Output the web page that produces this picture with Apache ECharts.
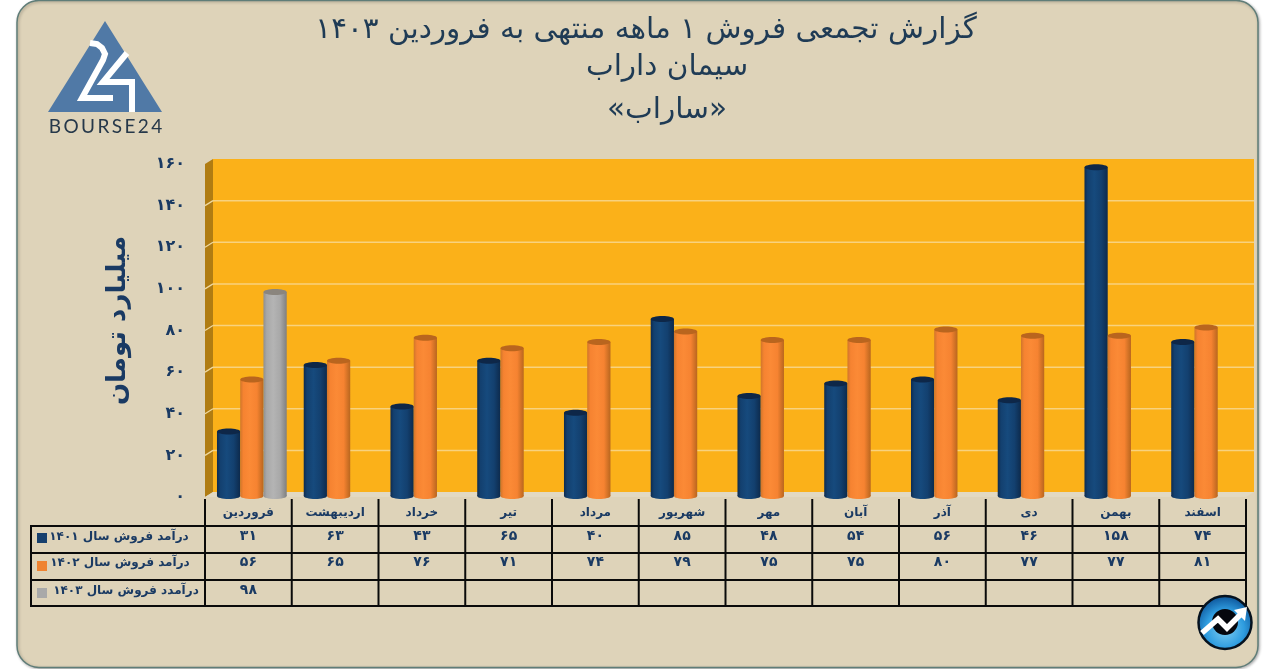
<!DOCTYPE html>
<html>
<head>
<meta charset="utf-8">
<style>html,body{margin:0;padding:0;background:#fff}#c{width:1271px;height:669px}</style>
<script src="https://cdn.jsdelivr.net/npm/echarts@6/dist/echarts.min.js"></script>
</head>
<body>
<div id="c"></div>
<script>
var months = ['فروردین','اردیبهشت','خرداد','تیر','مرداد','شهریور','مهر','آبان','آذر','دی','بهمن','اسفند'];
var sales1401 = [31,63,43,65,40,85,48,54,56,46,158,74];
var sales1402 = [56,65,76,71,74,79,75,75,80,77,77,81];
var sales1403 = [98];
var yTicks = [0,20,40,60,80,100,120,140,160];
var rowLabels = ['درآمد فروش سال ۱۴۰۱','درآمد فروش سال ۱۴۰۲','درآمدد فروش سال ۱۴۰۳'];
var titleLines = ['گزارش تجمعی فروش ۱ ماهه منتهی به فروردین ۱۴۰۳','سیمان داراب','\u200F«ساراب»\u200F'];
var yAxisName = 'میلیارد تومان';

var FONT = '"DejaVu Sans"';
var NAVY = '#1a3a63';
var X0 = 205, X1 = 1246, Y0 = 497, YTOP = 164, DX = 8, DY = 5;
var ROW_Y = [526,553,580,606], ROW_MID = [536,562,590];
var rowColors = ['#17406e','#ef8331','#a9a9a9'];

function fa(n){return String(n).replace(/\d/g,function(d){return '۰۱۲۳۴۵۶۷۸۹'[d];});}
function grad(c){return {type:'linear',x:0,y:0,x2:1,y2:0,colorStops:[
  {offset:0,color:c[0]},{offset:0.14,color:c[1]},{offset:0.42,color:c[2]},{offset:0.72,color:c[1]},{offset:1,color:c[3]}]};}

function cylinder(slot, colors){
  return function(params, api){
    var v = api.value(1);
    if (v == null || isNaN(v)) return;
    var top = api.coord([api.value(0), v]);
    var base = api.coord([api.value(0), 0]);
    var band = api.size([1,0])[0];
    var w = band*0.268;
    var x = top[0]-band/2 + band*0.138 + slot*w;
    var g = grad(colors);
    return {type:'group',children:[
      {type:'ellipse',shape:{cx:x+w/2,cy:base[1]-1,rx:w/2,ry:3},style:{fill:g}},
      {type:'rect',shape:{x:x,y:top[1]-1,width:w,height:base[1]-top[1]},style:{fill:g}},
      {type:'ellipse',shape:{cx:x+w/2,cy:top[1]-1,rx:w/2,ry:3},style:{fill:colors[4]}}
    ]};
  };
}
function wall(params, api){
  var cs = params.coordSys, kids = [];
  var l = cs.x, r = cs.x+cs.width, t = cs.y, b = cs.y+cs.height;
  kids.push({type:'rect',shape:{x:l+DX,y:t-DY,width:r-l,height:b-t},style:{fill:'#fbb119'}});
  kids.push({type:'polygon',shape:{points:[[l,t],[l+DX,t-DY],[l+DX,b-DY],[l,b]]},style:{fill:'#b07c12'}});
  kids.push({type:'polygon',shape:{points:[[l,b],[l+DX,b-DY],[r+8,b-DY],[r,b]]},style:{fill:'#e2d9c3'}});
  yTicks.forEach(function(v){
    if (v===0||v===160) return;
    var y = api.coord([0,v])[1];
    kids.push({type:'line',shape:{x1:l+DX,y1:y-DY,x2:r+8,y2:y-DY},style:{stroke:'#f8d27e',lineWidth:1.5}});
    kids.push({type:'line',shape:{x1:l,y1:y,x2:l+DX,y2:y-DY},style:{stroke:'#f0d9a0',lineWidth:1.2}});
  });
  return {type:'group',children:kids};
}
var rows = [sales1401,sales1402,sales1403];
var cells = [];
rows.forEach(function(arr,r){arr.forEach(function(v,i){cells.push([i,r,v]);});});
function cell(params, api){
  var x = api.coord([api.value(0),0])[0];
  return {type:'text',style:{text:fa(api.value(2)),x:x,y:ROW_MID[api.value(1)],align:'center',verticalAlign:'middle',
    font:'bold 14px '+FONT,fill:NAVY}};
}

var gfx = [];
gfx.push({type:'rect',z:-5,shape:{x:17,y:0.5,width:1241,height:667,r:22},
  style:{fill:'#ded3b9',stroke:'#5f7d78',lineWidth:1.5,shadowBlur:3,shadowColor:'rgba(0,0,0,0.3)',shadowOffsetX:1,shadowOffsetY:1}});
titleLines.forEach(function(t,i){
  gfx.push({type:'text',z:3,style:{text:t,x:[646,667,667][i],y:[30,67,110][i],align:'center',verticalAlign:'middle',
    font:'29.5px '+FONT,fill:'#1f3b55'}});
});
// logo
gfx.push({type:'polygon',z:3,shape:{points:[[105,21],[162,112],[48,112]]},style:{fill:'#5079a6'}});
gfx.push({type:'polyline',z:4,shape:{points:[[90,43],[97,44],[102,48],[105,54],[103,60],[82,98],[113,98]]},style:{stroke:'#fff',fill:'none',lineWidth:6}});
gfx.push({type:'polyline',z:4,shape:{points:[[127,53],[103,82],[132,82],[132,112]]},style:{stroke:'#fff',fill:'none',lineWidth:6}});
gfx.push({type:'text',z:4,style:{text:'B\u2009O\u2009U\u2009R\u2009S\u2009E\u20092\u20094',x:105.5,y:127,align:'center',verticalAlign:'middle',font:'19px Lato',fill:'#26384a'}});
// table rules
ROW_Y.forEach(function(y){gfx.push({type:'line',z:5,shape:{x1:31,y1:y,x2:X1,y2:y},style:{stroke:'#0a0a0a',lineWidth:2}});});
gfx.push({type:'line',z:5,shape:{x1:31,y1:525,x2:31,y2:607},style:{stroke:'#0a0a0a',lineWidth:2}});
for (var k=0;k<=months.length;k++){
  var vx = X0+(X1-X0)*k/months.length;
  gfx.push({type:'line',z:5,shape:{x1:vx,y1:499,x2:vx,y2:607},style:{stroke:'#0a0a0a',lineWidth:2}});
}
rowLabels.forEach(function(t,i){
  gfx.push({type:'rect',z:5,shape:{x:37,y:[533,561,588][i],width:10,height:10},style:{fill:rowColors[i]}});
  gfx.push({type:'text',z:5,style:{text:t,x:[119,120,126][i],y:ROW_MID[i]+1,align:'center',verticalAlign:'middle',font:'bold 12px '+FONT,fill:NAVY}});
});
// round badge
gfx.push({type:'circle',z:6,shape:{cx:1225,cy:622.5,r:26.5},style:{stroke:'#06121f',lineWidth:2.5,
  fill:{type:'radial',x:0.5,y:0.62,r:0.62,colorStops:[{offset:0,color:'#7fcdf0'},{offset:0.55,color:'#2f9de0'},{offset:1,color:'#0b4f94'}]}}});
gfx.push({type:'circle',z:6,shape:{cx:1225,cy:622,r:13},style:{fill:'#05070d'}});
gfx.push({type:'polyline',z:7,shape:{points:[[1202,633],[1218,619],[1227,628],[1241,614]]},style:{stroke:'#fff',fill:'none',lineWidth:5.5}});
gfx.push({type:'polygon',z:7,shape:{points:[[1234,610],[1247,607],[1245,621]]},style:{fill:'#fff'}});

var option = {
  animation:false,
  backgroundColor:'#fff',
  textStyle:{fontFamily:FONT},
  grid:{left:X0,right:1271-X1,top:YTOP,bottom:669-Y0,containLabel:false},
  xAxis:{type:'category',data:months,axisLine:{show:false},axisTick:{show:false},
    axisLabel:{interval:0,margin:10,fontSize:12,fontWeight:'bold',color:NAVY,fontFamily:FONT}},
  yAxis:{type:'value',min:0,max:160,interval:20,splitLine:{show:false},axisLine:{show:false},axisTick:{show:false},
    axisLabel:{margin:20,fontSize:16,fontWeight:'bold',color:NAVY,fontFamily:FONT,formatter:function(v){return fa(v);}},
    name:yAxisName,nameLocation:'middle',nameRotate:90,nameGap:74,
    nameTextStyle:{fontSize:26,fontWeight:'bold',color:NAVY,fontFamily:FONT,padding:[0,0,0,20]}},
  graphic:gfx,
  series:[
    {type:'custom',name:'wall',z:1,data:[[0,0]],encode:{x:0,y:1},renderItem:wall,silent:true},
    {type:'custom',name:rowLabels[0],z:3,data:sales1401.map(function(v,i){return [i,v];}),encode:{x:0,y:1},clip:false,
      renderItem:cylinder(0,['#0e2b4e','#13406f','#164a7d','#0d2a4c','#0e2748'])},
    {type:'custom',name:rowLabels[1],z:4,data:sales1402.map(function(v,i){return [i,v];}),encode:{x:0,y:1},clip:false,
      renderItem:cylinder(1,['#d0762a','#f68331','#fb8a36','#b9661e','#b9651e'])},
    {type:'custom',name:rowLabels[2],z:5,data:sales1403.map(function(v,i){return [i,v];}),encode:{x:0,y:1},clip:false,
      renderItem:cylinder(2,['#8f8f8f','#a8a8a8','#b4b4b4','#7f7f7f','#8a857e'])},
    {type:'custom',name:'table',z:6,data:cells,encode:{x:0},clip:false,renderItem:cell,silent:true}
  ]
};
var chart = echarts.init(document.getElementById('c'),null,{renderer:'canvas'});
chart.setOption(option);
</script>
</body>
</html>
